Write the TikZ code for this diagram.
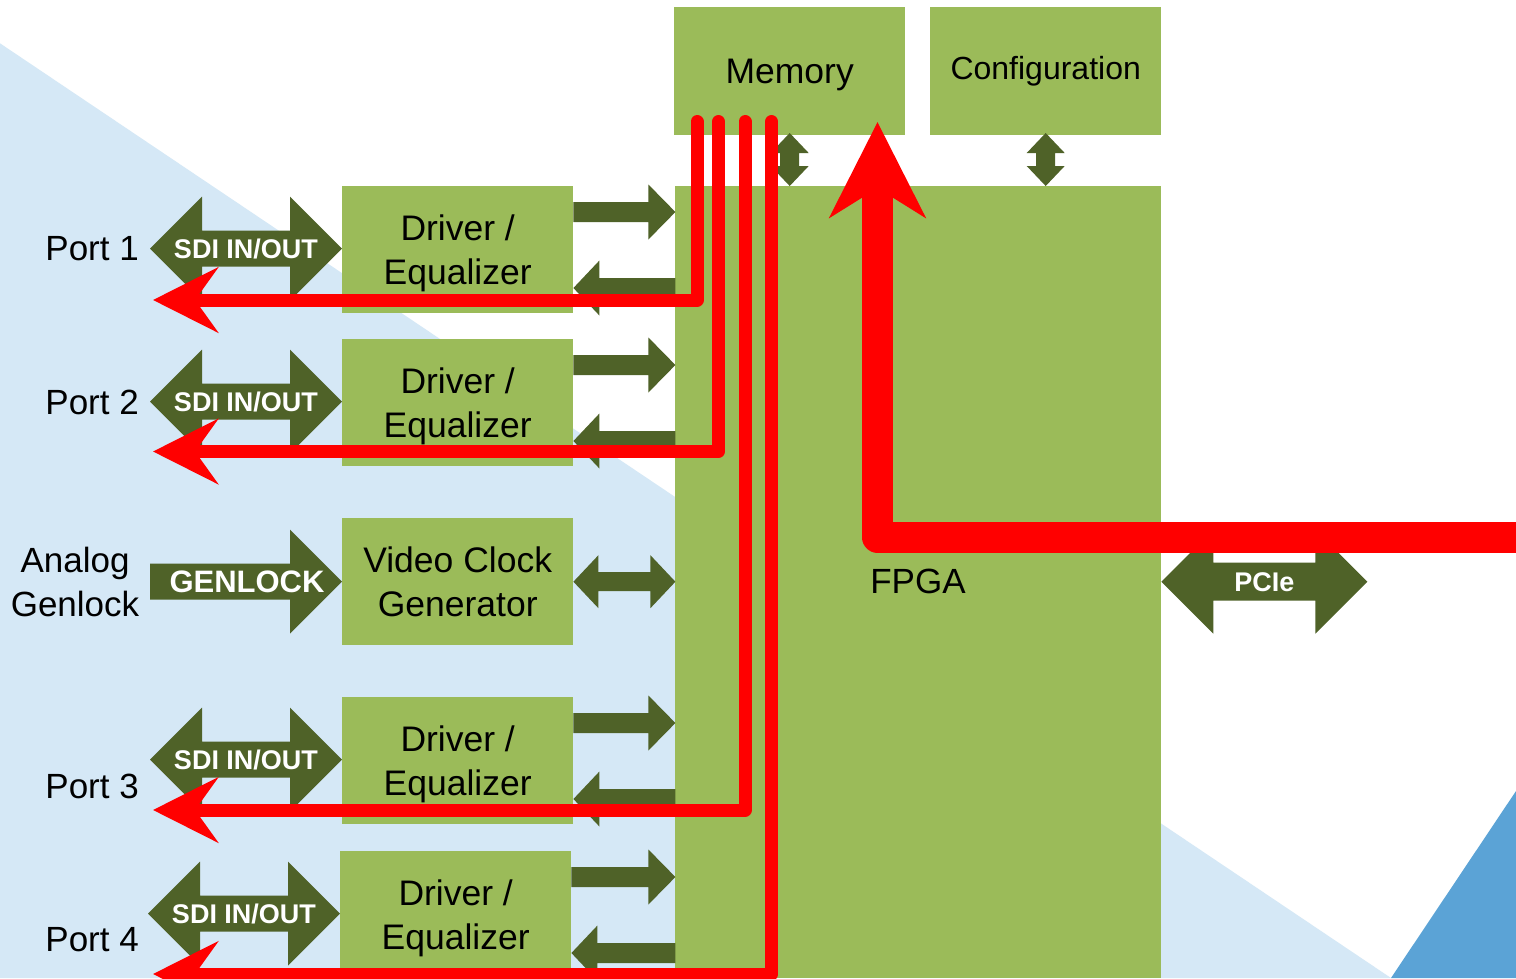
\documentclass[tikz,border=0pt]{standalone}
\usepackage{fontspec}
\setmainfont{Liberation Sans}
\usetikzlibrary{arrows.meta,calc}

\definecolor{boxgreen}{HTML}{9BBB59}
\definecolor{arrowgreen}{HTML}{4F6228}
\definecolor{paleblue}{HTML}{D5E8F6}
\definecolor{deepblue}{HTML}{5BA3D6}

\tikzset{
  block/.style={fill=boxgreen, draw=none, anchor=north west, inner sep=0pt,
    minimum width=231pt, minimum height=127pt, align=center, text depth=0pt,
    font=\fontsize{35.5}{44}\selectfont},
  lbl/.style={inner sep=0pt, align=center, font=\fontsize{35}{44}\selectfont},
  tag/.style={inner sep=0pt, text=white, font=\bfseries\fontsize{27}{30}\selectfont},
  redwire/.style={draw=red, line width=13pt, line join=round, line cap=round,
    -{Stealth[length=65pt,width=65pt,inset=23pt]}},
  bigred/.style={draw=red, line width=31pt, line join=round,
    -{Stealth[length=95pt,width=95pt,inset=29pt]}},
  % double-headed block arrow: length / shaft half-height / head half-height / head length
  pics/dblarrow/.style args={#1/#2/#3/#4}{code={
    \fill[arrowgreen] (0,0) -- (#4,-#3) -- (#4,-#2) -- ({#1-#4},-#2) -- ({#1-#4},-#3)
      -- (#1,0) -- ({#1-#4},#3) -- ({#1-#4},#2) -- (#4,#2) -- (#4,#3) -- cycle;
  }},
  % single block arrow pointing along +x, origin at the tail
  pics/onearrow/.style args={#1/#2/#3/#4}{code={
    \fill[arrowgreen] (0,-#2) -- ({#1-#4},-#2) -- ({#1-#4},-#3) -- (#1,0)
      -- ({#1-#4},#3) -- ({#1-#4},#2) -- (0,#2) -- cycle;
  }},
}

\begin{document}
\begin{tikzpicture}[x=1pt, y=-1pt]
\useasboundingbox (0,0) rectangle (1516,978);

% background
\fill[white] (0,0) rectangle (1516,978);
\fill[paleblue] (0,43.3) -- (1391,978) -- (0,978) -- cycle;
\fill[deepblue] (1391,978) -- (1516,791) -- (1516,978) -- cycle;

% blocks
\node[block, minimum height=128pt] (mem) at (674,7) {Memory};
\node[block, minimum height=128pt, text depth=6.7pt, font=\fontsize{32}{40}\selectfont] (cfg) at (930,7) {Configuration};
\node[block, minimum width=486pt, minimum height=792pt] (fpga) at (675,186) {};
\node[lbl] (fpgalbl) at (918,581) {FPGA};

\node[block] (eq1) at (342,186) {Driver /\\Equalizer};
\node[block] (eq2) at (342,339) {Driver /\\Equalizer};
\node[block] (vcg) at (342,518) {Video Clock\\Generator};
\node[block] (eq3) at (342,697) {Driver /\\Equalizer};
\node[block] (eq4) at (340,851) {Driver /\\Equalizer};

% port labels
\node[lbl, anchor=east] (port1) at (139,249) {Port 1};
\node[lbl, anchor=east] (port2) at (139,402) {Port 2};
\node[lbl] (genin) at (75,582) {Analog\\Genlock};
\node[lbl, anchor=east] (port3) at (139,786) {Port 3};
\node[lbl, anchor=east] (port4) at (139,940) {Port 4};

% SDI connectors
\foreach \b in {eq1,eq2,eq3,eq4}{
  \pic at ($(\b.west)+(-192,-1)$) {dblarrow=192/18/52/52};
  \node[tag] (sdi-\b) at ($(\b.west)+(-96,-1)$) {SDI IN/OUT};
}

% genlock input
\pic at ($(vcg.west)+(-192,0)$) {onearrow=192/18/52/52};
\node[tag, font=\bfseries\fontsize{31}{34}\selectfont] (genlock) at ($(vcg.west)+(-95,0)$) {GENLOCK};

% block <-> FPGA links
\foreach \b/\len in {eq1/102,eq2/102,eq3/102,eq4/104}{
  \pic at ($(\b.north east)+(0,26)$) {onearrow=\len/10/27.5/27};
  \pic[xscale=-1] at ($(\b.north east)+(\len,102)$) {onearrow=\len/10/27.5/26};
}
\pic at (vcg.east) {dblarrow=102/9.5/26.5/25};

% memory / configuration links
\pic[rotate=90] at (mem.south |- fpga.north) {dblarrow=53/9.5/19/20};
\pic[rotate=90] at (cfg.south |- fpga.north) {dblarrow=53/9.5/19/20};

% PCIe
\pic at (vcg.east -| fpga.east) {dblarrow=206/19/52/52};
\node[tag] (pcie) at ($(vcg.east -| fpga.east)+(103,0)$) {PCIe};

% video data paths from memory to the ports
\coordinate (m1) at (697,121.5);
\coordinate (m2) at (718.5,121.5);
\coordinate (m3) at (745,121.5);
\coordinate (m4) at (771.5,121.5);
\coordinate (out1) at (153,300);
\coordinate (out2) at (153,451.5);
\coordinate (out3) at (153,810);
\coordinate (out4) at (153,974);
\draw[redwire] (m1) |- (out1);
\draw[redwire] (m2) |- (out2);
\draw[redwire] (m3) |- (out3);
\draw[redwire] (m4) |- (out4);

% host data path into the FPGA
\coordinate (host) at (1540,537);
\coordinate (fpgain) at (877.5,122);
\draw[bigred] (host) -| (fpgain);
\end{tikzpicture}
\end{document}
